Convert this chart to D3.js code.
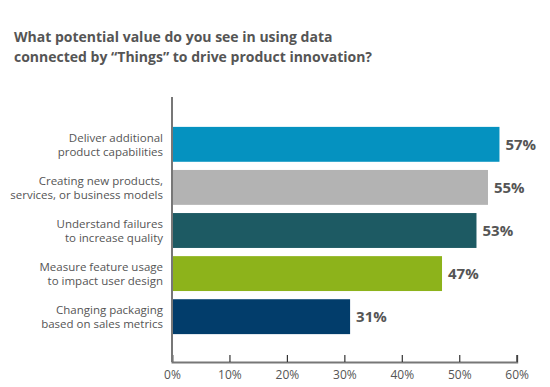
<!DOCTYPE html>
<html lang="en">
<head>
<meta charset="UTF-8">
<title>Chart</title>
<script src="https://d3js.org/d3.v7.min.js"></script>
<style>
  body { margin: 0; background: #fff; }
  text { font-family: "Open Sans", "DejaVu Sans", sans-serif; }
</style>
</head>
<body>
<script>
// data
const categories = [
  ["Deliver additional", "product capabilities"],
  ["Creating new products,", "services, or business models"],
  ["Understand failures", "to increase quality"],
  ["Measure feature usage", "to impact user design"],
  ["Changing packaging", "based on sales metrics"]
];
const values = [57, 55, 53, 47, 31];
const colors = ["#0592c0", "#b3b3b3", "#1d5a63", "#8db31b", "#023d6b"];
const ticks = [0, 10, 20, 30, 40, 50, 60];
const titleLines = ["What potential value do you see in using data",
                    "connected by \u201cThings\u201d to drive product innovation?"];

const W = 550, H = 387;
const svg = d3.select("body").append("svg")
    .attr("width", W)
    .attr("height", H);

// title
svg.append("text")
    .attr("x", 14).attr("y", 42)
    .attr("fill", "#555")
    .attr("font-size", 14)
    .attr("font-weight", 700)
    .selectAll("tspan")
    .data(titleLines)
    .enter().append("tspan")
    .attr("x", 14)
    .attr("dy", (d, i) => i ? 20 : 0)
    .text(d => d);

const plotLeft = 172, plotRight = 516.7, plotTop = 97, plotBottom = 362;

const x = d3.scaleLinear().domain([0, 60]).range([plotLeft, plotRight]);
const y = d3.scaleBand()
    .domain(d3.range(values.length))
    .range([123, 338])
    .paddingInner(0.19)
    .paddingOuter(0.09);

// bars
svg.selectAll("rect.bar")
    .data(values)
    .enter().append("rect")
    .attr("class", "bar")
    .attr("x", x(0))
    .attr("y", (d, i) => y(i))
    .attr("width", d => x(d) - x(0))
    .attr("height", y.bandwidth())
    .attr("fill", (d, i) => colors[i]);

// value labels
svg.selectAll("text.val")
    .data(values)
    .enter().append("text")
    .attr("class", "val")
    .attr("x", d => x(d) + 6)
    .attr("y", (d, i) => y(i) + y.bandwidth() / 2)
    .attr("dy", "0.35em")
    .attr("fill", "#555")
    .attr("font-size", 15)
    .attr("font-weight", 700)
    .text(d => d + "%");

// category labels, two lines each
categories.forEach((lines, i) => {
  const cy = y(i) + y.bandwidth() / 2;
  svg.selectAll(null)
      .data(lines)
      .enter().append("text")
      .attr("class", "cat")
      .attr("text-anchor", "end")
      .attr("fill", "#555")
      .attr("font-size", 11.5)
      .attr("x", 163)
      .attr("y", (d, j) => cy - 2.8 + j * 14)
      .text(d => d);
});

// x axis
const xAxis = d3.axisBottom(x)
    .tickValues(ticks)
    .tickSizeInner(-7)
    .tickSizeOuter(-7)
    .tickPadding(8)
    .tickFormat(d => d + "%");
const gx = svg.append("g")
    .attr("transform", `translate(0,${plotBottom})`)
    .call(xAxis);
gx.select(".domain").attr("stroke", "#777").attr("stroke-width", 2);
gx.selectAll(".tick line").attr("stroke", "#333").attr("stroke-width", 1.2);
gx.selectAll(".tick text")
    .attr("fill", "#555")
    .attr("font-size", 12)
    .attr("font-family", "\"Open Sans\", sans-serif");

// y axis line
svg.append("line")
    .attr("x1", plotLeft).attr("x2", plotLeft)
    .attr("y1", plotTop).attr("y2", plotBottom)
    .attr("stroke", "#777")
    .attr("stroke-width", 2);
</script>
</body>
</html>
